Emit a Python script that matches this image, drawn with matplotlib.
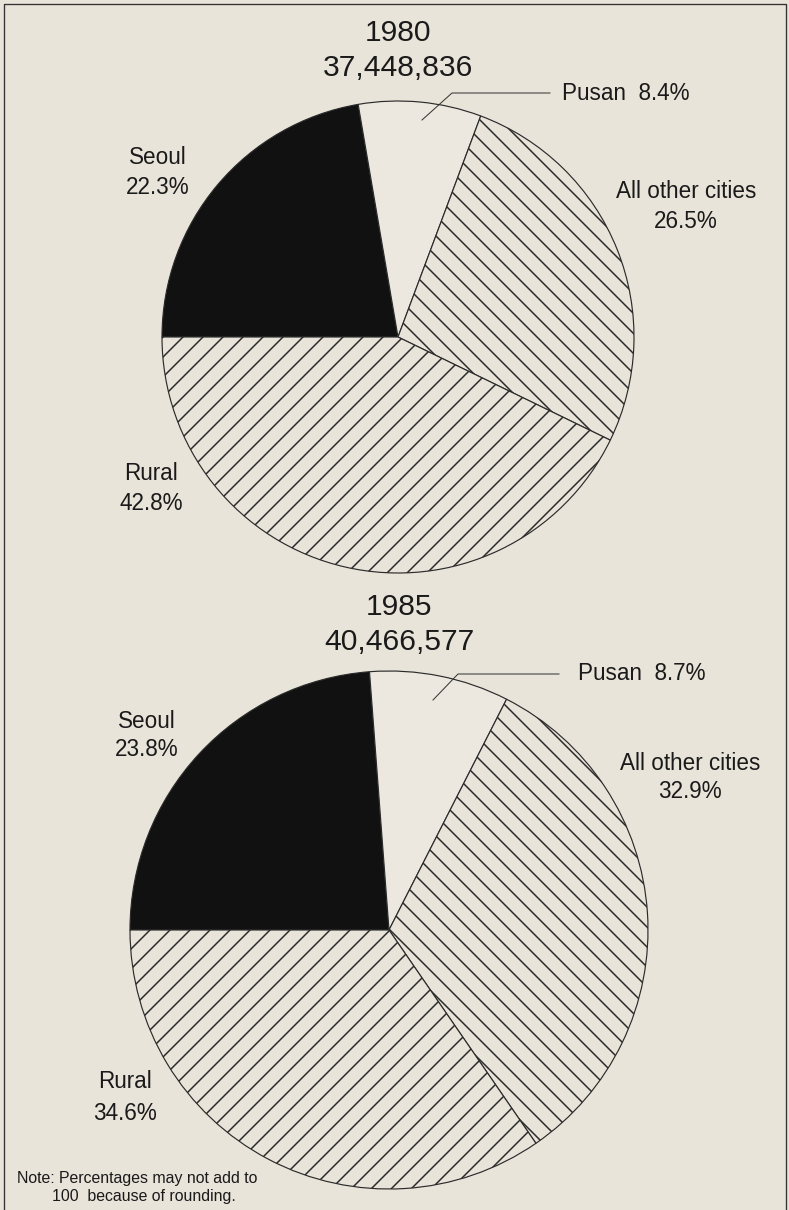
import numpy as np
import matplotlib.pyplot as plt
from matplotlib.lines import Line2D

# Korea population by place of residence, 1980 and 1985
years = ['1980', '1985']
totals = ['37,448,836', '40,466,577']
regions = ['Seoul', 'Pusan', 'All other cities', 'Rural']
share_1980 = [22.3, 8.4, 26.5, 42.8]
share_1985 = [23.8, 8.7, 32.9, 34.6]
note = 'Note: Percentages may not add to\n        100  because of rounding.'

W, H = 789, 1210
DPI = 120
bg = '#e9e4da'
ink = '#1a1a1a'

plt.rcParams['font.family'] = ['Liberation Sans', 'DejaVu Sans']
plt.rcParams['hatch.linewidth'] = 0.9

fig = plt.figure(figsize=(W / DPI, H / DPI), dpi=DPI, facecolor=bg)
ax = fig.add_axes([0, 0, 1, 1])
ax.set_facecolor(bg)

def Y(y):
    # pixel row (from top) -> data y (from bottom)
    return H - y

# layout of each pie (pixel positions measured from the top-left)
layout = [
    dict(c=(398, 337), r=236, title=(398, 33, 68),
         pusan=(562, 93), leader=[(422, 120), (452, 93), (550, 93)],
         seoul=(158, 157, 188), other=(686, 191, 222), rural=(151, 473, 504)),
    dict(c=(389, 930), r=259, title=(399, 607, 642),
         pusan=(578, 674), leader=[(433, 700), (458, 674), (559, 674)],
         seoul=(147, 721, 750), other=(690, 763, 791), rural=(125, 1082, 1113)),
]

colors = ['#111111', '#ece8df', bg, bg]
hatches = ['', '', '\\\\', '//']

for yr, tot, shares, L in zip(years, totals, [share_1980, share_1985], layout):
    cx, cy = L['c']
    ax.pie(shares, center=(cx, Y(cy)), radius=L['r'], startangle=180,
           counterclock=False, colors=colors, hatch=hatches,
           wedgeprops=dict(edgecolor='#2a2a2a', linewidth=0.7))

    tx, ty1, ty2 = L['title']
    ax.text(tx, Y(ty1), yr, ha='center', va='center', fontsize=18, color=ink)
    ax.text(tx, Y(ty2), tot, ha='center', va='center', fontsize=18, color=ink)

    for key, name, val in [('seoul', regions[0], shares[0]),
                           ('other', regions[2], shares[2]),
                           ('rural', regions[3], shares[3])]:
        x, y1, y2 = L[key]
        ax.text(x, Y(y1), name, ha='center', va='center', fontsize=13.5, color=ink)
        ax.text(x, Y(y2), f'{val}%', ha='center', va='center', fontsize=13.5, color=ink)

    px, py = L['pusan']
    ax.text(px, Y(py), f'{regions[1]}  {shares[1]}%', ha='left', va='center',
            fontsize=13.5, color=ink)
    lx = [p[0] for p in L['leader']]
    ly = [Y(p[1]) for p in L['leader']]
    ax.plot(lx, ly, color='#333333', lw=0.6)

ax.text(17, Y(1187), note, ha='left', va='center', fontsize=9.5, color=ink,
        linespacing=1.25)

ax.set_xlim(0, W)
ax.set_ylim(0, H)
ax.axis('off')

# thin frame round the page
fx = [4 / W, 4 / W, 786 / W, 786 / W]
fy = [0, 1 - 4 / H, 1 - 4 / H, 0]
fig.add_artist(Line2D(fx, fy, transform=fig.transFigure, color='#333333', lw=0.8))

fig.savefig('out.png', dpi=DPI, facecolor=bg)
